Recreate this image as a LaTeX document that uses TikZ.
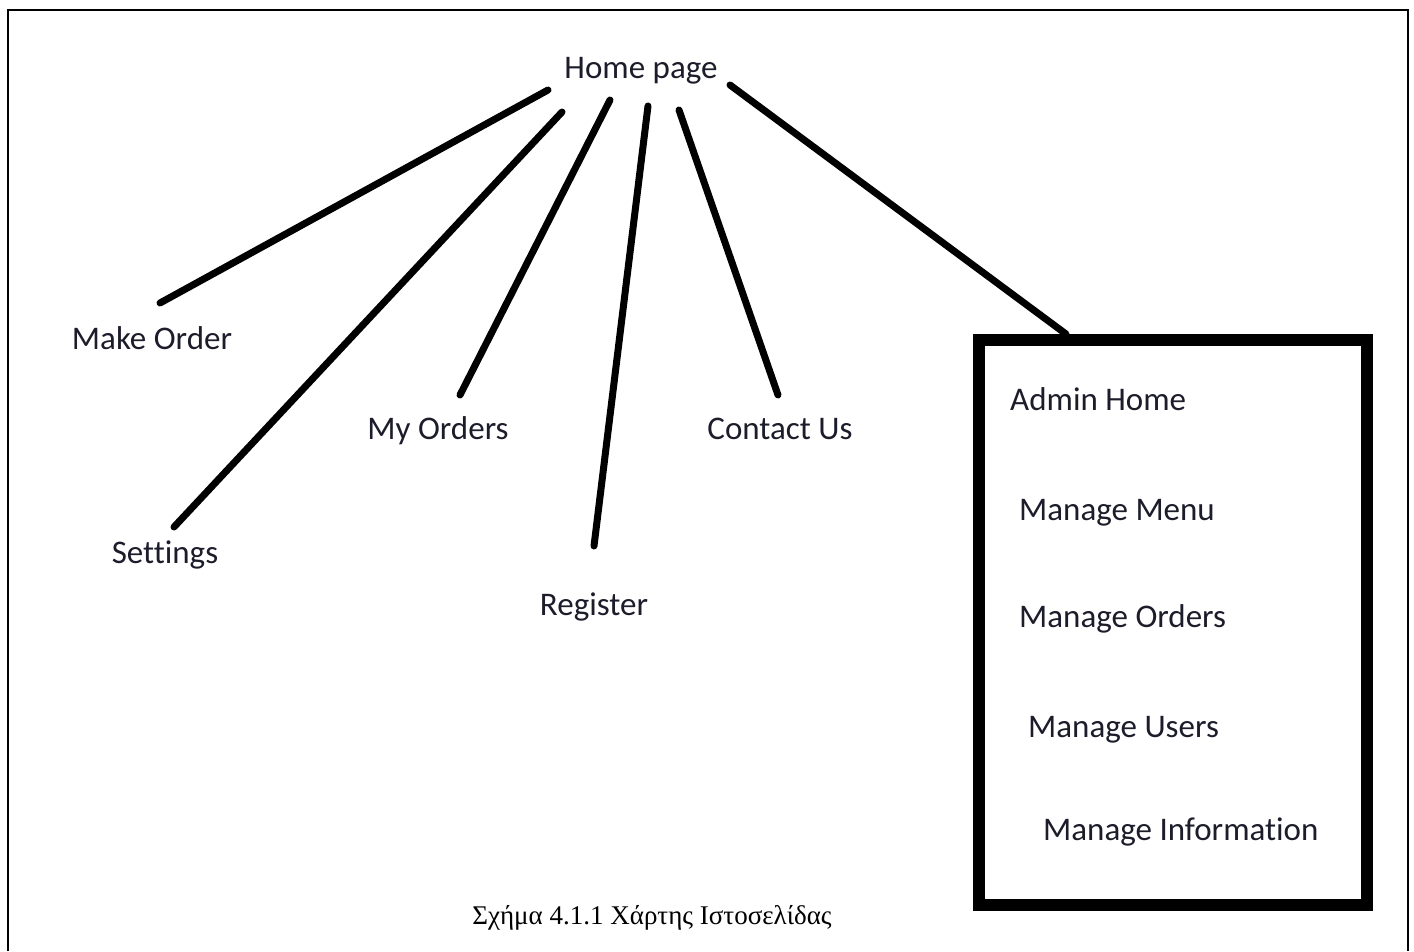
\documentclass[tikz,border=0pt]{standalone}
\usepackage{fontspec}
\setmainfont{Carlito}[Ligatures=NoCommon]
\newfontfamily\capfont{Liberation Serif}
\definecolor{txt}{HTML}{1C1C2A}
\begin{document}
\begin{tikzpicture}[x=1pt,y=-1pt,
  lbl/.style={inner sep=0pt,text=txt,font=\fontsize{33}{36}\selectfont},
  link/.style={line width=7pt,line cap=round},
  frame/.style={line width=2pt}]
\useasboundingbox (0,0) rectangle (1414,951);
% outer frame (open at bottom)
\draw[frame] (7.5,951) -- (7.5,9.5) -- (1408,9.5) -- (1408,951);
% texts
\node[lbl,anchor=base] (home) at (641,78) {Home page};
\node[lbl,anchor=base] (make) at (152,349) {Make Order};
\node[lbl,anchor=base] (sett) at (165,563) {Settings};
\node[lbl,anchor=base] (myo) at (438,439) {My Orders};
\node[lbl,anchor=base] (reg) at (594,615) {Register};
\node[lbl,anchor=base] (cont) at (780,439) {Contact Us};
% admin box
\node[draw,line width=12pt,minimum width=388pt,minimum height=565pt,inner sep=0pt] (admin) at (1173,622) {};
\node[lbl,anchor=base west] (ah) at (1010,410) {Admin Home};
\node[lbl,anchor=base west] (mm) at (1019,520) {Manage Menu};
\node[lbl,anchor=base west] (mo) at (1019,627) {Manage Orders};
\node[lbl,anchor=base west] (mu) at (1028,737) {Manage Users};
\node[lbl,anchor=base west] (mi) at (1043,840) {Manage Information};
% caption
\node[inner sep=0pt,anchor=base,font=\capfont\fontsize{27}{30}\selectfont] (cap) at (652,924) {Σχήμα 4.1.1 Χάρτης Ιστοσελίδας};
% connector end coordinates
\coordinate (h1) at (548,90);
\coordinate (h2) at (562,112);
\coordinate (h3) at (610,100);
\coordinate (h4) at (648,106);
\coordinate (h5) at (679,110);
\coordinate (h6) at (730,85);
\coordinate (e1) at (160,303);
\coordinate (e2) at (174,527);
\coordinate (e3) at (460,395);
\coordinate (e4) at (594,546);
\coordinate (e5) at (778,395);
\coordinate (e6) at (1066,334);
\draw[link] (h1) -- (e1);
\draw[link] (h2) -- (e2);
\draw[link] (h3) -- (e3);
\draw[link] (h4) -- (e4);
\draw[link] (h5) -- (e5);
\draw[link] (h6) -- (e6);
\end{tikzpicture}
\end{document}
